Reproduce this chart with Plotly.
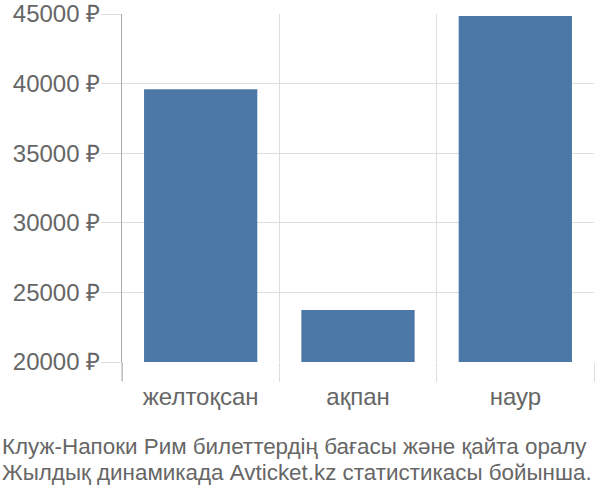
import plotly.graph_objects as go

months = ["желтоқсан", "ақпан", "наур"]
prices = [39600, 23740, 44850]
y_ticks = [20000, 25000, 30000, 35000, 40000, 45000]
y_tick_text = [f"{v} ₽" for v in y_ticks]
caption = [
    "Клуж-Напоки Рим билеттердің бағасы және қайта оралу",
    "Жылдық динамикада Avticket.kz статистикасы бойынша.",
]

font = "Liberation Sans"
grey = "#666666"

fig = go.Figure()
fig.add_bar(x=months, y=prices, width=0.72, marker_color="#4c78a8", marker_line_width=0)

fig.update_layout(
    width=600,
    height=500,
    margin=dict(l=122, r=6, t=14, b=138),
    plot_bgcolor="white",
    paper_bgcolor="white",
    showlegend=False,
    font=dict(family=font, color=grey),
)
fig.update_yaxes(
    range=[20000, 45000],
    tickvals=y_ticks,
    ticktext=y_tick_text,
    tickfont=dict(size=24, color=grey),
    ticks="outside",
    ticklen=20,
    tickcolor="#dddddd",
    gridcolor="#dddddd",
    showline=True,
    linecolor="#aaaaaa",
    zeroline=False,
    automargin=False,
    ticklabeloverflow="allow",
    ticklabelstandoff=-4,
)
fig.update_xaxes(
    tickson="boundaries",
    ticks="outside",
    ticklen=19,
    tickcolor="#dddddd",
    showgrid=True,
    gridcolor="#dddddd",
    tickfont=dict(size=24, color=grey),
    ticklabelstandoff=18,
    automargin=False,
)

# left axis line continues down past the bars like in the original
fig.add_shape(
    type="line", xref="paper", yref="paper", x0=0, x1=0, y0=0, y1=-19 / 348,
    line=dict(color="#aaaaaa", width=1),
)

# two caption lines, placed separately to get the tighter line spacing
for line, y in zip(caption, [-84 / 348, -110 / 348]):
    fig.add_annotation(
        xref="paper", yref="paper", x=-122 / 472, y=y,
        xanchor="left", yanchor="middle", showarrow=False,
        text=line, font=dict(size=22.4, color=grey, family=font),
    )

# drop the default 8px body margin so the figure sits at the window corner
fig.write_html(
    "out.html",
    config={"displayModeBar": False},
    post_script="document.body.style.margin = '0';",
)
